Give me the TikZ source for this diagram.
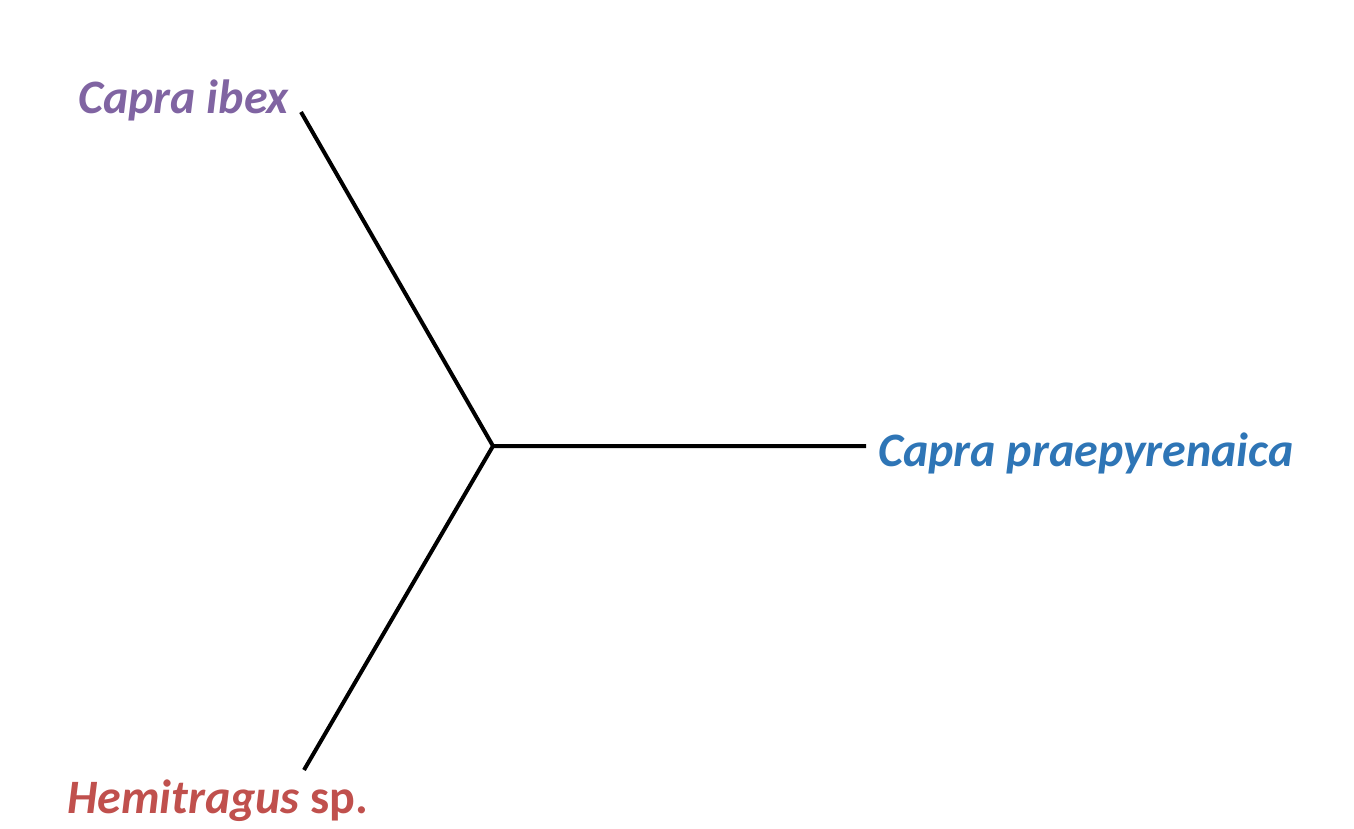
\documentclass[tikz,border=0pt]{standalone}
\usepackage{fontspec}
\setmainfont{Carlito}
\definecolor{ibexcol}{HTML}{8064A2}
\definecolor{praecol}{HTML}{2E75B6}
\definecolor{hemicol}{HTML}{C0504D}
\begin{document}
\begin{tikzpicture}[x=1pt,y=-1pt,
  branch/.style={line width=4pt,black},
  taxon/.style={inner sep=0pt,font=\fontsize{48}{54}\selectfont\bfseries\itshape}]
\useasboundingbox (0,0) rectangle (1354,828);
\coordinate (c) at (493,446);
\coordinate (tIbex) at (301,112);
\coordinate (tPrae) at (866,446);
\coordinate (tHemi) at (304,770);
\draw[branch,line join=miter] (tIbex) -- (c) -- (tPrae);
\draw[branch] (c) -- (tHemi);
\node[taxon,text=ibexcol,anchor=base west] (ibex) at (78,113) {Capra ibex};
\node[taxon,text=praecol,anchor=base west] (prae) at (878,466) {Capra praepyrenaica};
\node[taxon,text=hemicol,anchor=base west] (hemi) at (67,813) {Hemitragus {\upshape sp.}};
\end{tikzpicture}
\end{document}
